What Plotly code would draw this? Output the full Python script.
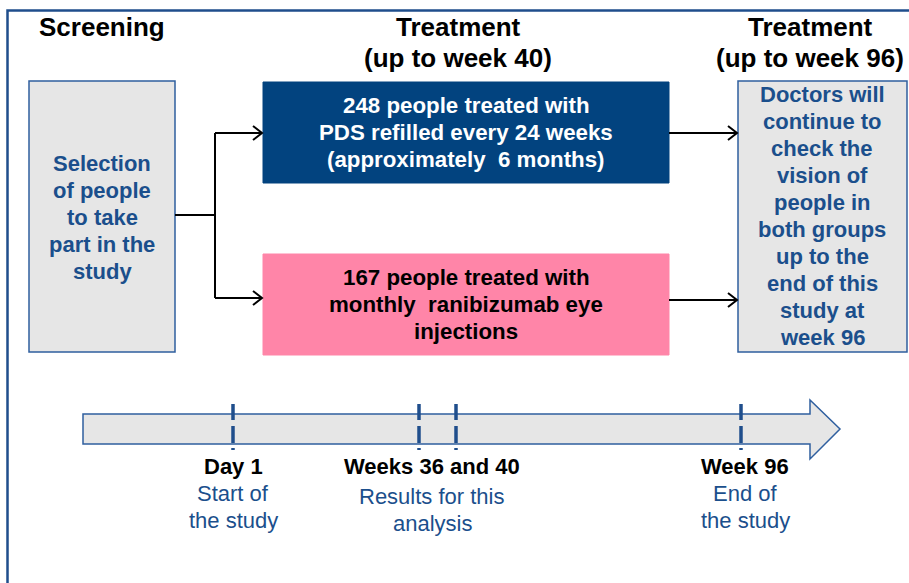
import plotly.graph_objects as go

# ---- text content ----
stage_titles = [["Screening"], ["Treatment", "(up to week 40)"], ["Treatment", "(up to week 96)"]]
selection_lines = ["Selection", "of people", "to take", "part in the", "study"]
pds_lines = ["248 people treated with", "PDS refilled every 24 weeks", "(approximately  6 months)"]
rbz_lines = ["167 people treated with", "monthly  ranibizumab eye", "injections"]
followup_lines = ["Doctors will", "continue to", "check the", "vision of", "people in",
                  "both groups", "up to the", "end of this", "study at", "week 96"]
milestone_heads = ["Day 1", "Weeks 36 and 40", "Week 96"]
milestone_desc = [["Start of", "the study"], ["Results for this", "analysis"], ["End of", "the study"]]
timeline_ticks = ["Day 1", "Week 36", "Week 40", "Week 96"]

# ---- layout constants (pixel space of the page) ----
W, H = 909, 583
FRAME = "#1F4E8C"
BOX_EDGE = "#2F5F9F"
GREY = "#E6E6E6"
NAVY = "#02437F"
PINK = "#FF85A8"
TXT_BLUE = "#1B4F8C"
FONT = "Liberation Sans, Arial, sans-serif"

title_x = [102, 458, 810]
title_y = [27, 58]
sel_box = (29, 81, 175, 352)
pds_box = (263, 82, 669, 183)
rbz_box = (263, 254, 669, 355)
fol_box = (738, 81, 907, 352)
tick_x = [233, 419, 456, 741]
head_x = [233, 432, 745]
head_y = 466
desc_y = [[493, 520], [496, 523], [493, 520]]

fig = go.Figure()
shapes = []
annots = []

def txt(x, y, s, size, color, bold=True):
    annots.append(dict(x=x, y=y, xref="x", yref="y", text=s, showarrow=False,
                       xanchor="center", yanchor="middle",
                       font=dict(family=FONT, size=size, color=color,
                                 weight="bold" if bold else "normal")))

def rect(b, fill, line, lw):
    shapes.append(dict(type="rect", x0=b[0], y0=b[1], x1=b[2], y1=b[3], xref="x", yref="y",
                       fillcolor=fill, line=dict(color=line, width=lw), layer="below"))

def path(p, color="black", width=2, fill=None):
    d = dict(type="path", path=p, xref="x", yref="y", line=dict(color=color, width=width))
    if fill:
        d["fillcolor"] = fill
    shapes.append(d)

# outer frame
path(f"M 7.5,{H+5} L 7.5,10.5 L {W+5},10.5", color=FRAME, width=2.5)

# boxes
rect(sel_box, GREY, BOX_EDGE, 1.5)
rect(fol_box, GREY, BOX_EDGE, 1.5)
rect(pds_box, NAVY, NAVY, 1)
rect(rbz_box, PINK, PINK, 1)

# connectors
path("M 175,215 L 215,215")
path("M 215,133 L 215,298")
path("M 215,133 L 261,133")
path("M 215,298 L 261,298")
path("M 669,133 L 736,133")
path("M 669,300 L 736,300")
for (ax, ay) in [(262, 133), (262, 298), (737, 133), (737, 300)]:
    path(f"M {ax-9},{ay-7} L {ax},{ay} L {ax-9},{ay+7}")

# timeline arrow
path("M 83,414 L 810,414 L 810,400 L 840,429 L 810,459 L 810,444 L 83,444 Z",
     color=BOX_EDGE, width=1.5, fill=GREY)
for i, _ in enumerate(timeline_ticks):
    tx = tick_x[i]
    for (a, b) in [(404, 420), (426, 443), (448, 450)]:
        shapes.append(dict(type="line", x0=tx, x1=tx, y0=a, y1=b, xref="x", yref="y",
                           line=dict(color=FRAME, width=3.5)))

# titles
for i, lines in enumerate(stage_titles):
    for j, s in enumerate(lines):
        txt(title_x[i], title_y[j], s, 26, "black")

# box texts
for j, s in enumerate(selection_lines):
    txt(102, 163 + 27 * j, s, 22, TXT_BLUE)
for j, s in enumerate(pds_lines):
    txt(466, 105 + 27 * j, s, 22.3, "white")
for j, s in enumerate(rbz_lines):
    txt(466, 277 + 27 * j, s, 22.3, "black")
for j, s in enumerate(followup_lines):
    txt(822, 94 + 27.1 * j, s, 22, TXT_BLUE)

# milestones
for i, s in enumerate(milestone_heads):
    txt(head_x[i], head_y, s, 22, "black", bold=True)
    for j, d in enumerate(milestone_desc[i]):
        txt(head_x[i], desc_y[i][j], d, 22, TXT_BLUE, bold=False)

fig.update_layout(
    width=W, height=H, margin=dict(l=0, r=0, t=0, b=0),
    paper_bgcolor="white", plot_bgcolor="white",
    xaxis=dict(range=[0, W], visible=False, fixedrange=True),
    yaxis=dict(range=[H, 0], visible=False, fixedrange=True),
    shapes=shapes, annotations=annots, showlegend=False,
)
fig.write_html("out.html", config={"displayModeBar": False},
               post_script="document.body.style.margin='0';document.body.style.overflow='hidden';")
